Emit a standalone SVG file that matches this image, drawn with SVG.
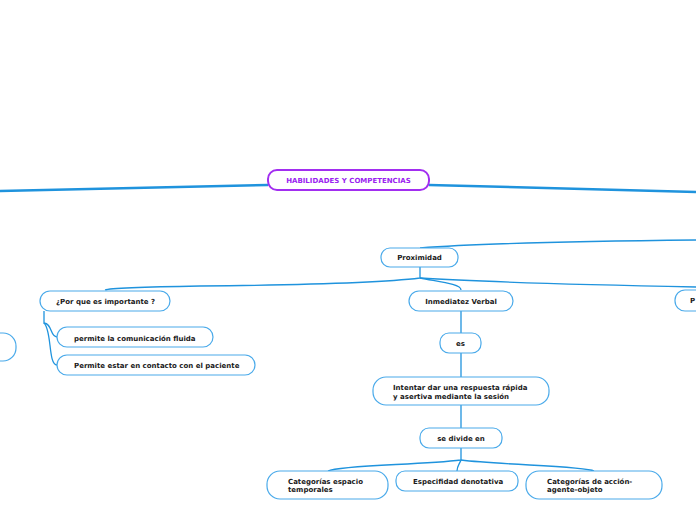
<svg xmlns="http://www.w3.org/2000/svg" width="696" height="520" viewBox="0 0 696 520">
<style>
.n{fill:#fff;stroke:#4aaaea;stroke-width:1.2}
.r{fill:#fff;stroke:#a22ef0;stroke-width:2}
.t{font-family:"DejaVu Sans",Verdana,sans-serif;font-weight:bold;font-size:7px;fill:#1a1a1a}
.rt{font-family:"DejaVu Sans",Verdana,sans-serif;font-weight:bold;font-size:7px;fill:#9a22f0}
.c{fill:none;stroke:#1f93dd;stroke-width:1.3}
.c2{fill:none;stroke:#1f93dd;stroke-width:2.5}
</style>
<rect width="696" height="520" fill="#fff"/>
<g id="connectors">
<path class="c2" d="M268,185 C150,188 60,190 0,191"/>
<path class="c2" d="M429,185 C550,188 640,191 696,192"/>
<path class="c" d="M420,248 C480,243 600,241 696,240"/>
<path class="c" d="M420,267 L420,278 C380,283 300,285 200,286 C140,287 110,288 105,290"/>
<path class="c" d="M420,278 C440,282 461,284 461,290"/>
<path class="c" d="M420,278 C480,282 600,285 696,287"/>
<path class="c" d="M44,311 L44,323 C52,323 50,337 57,337"/>
<path class="c" d="M44,323 C52,330 48,365 57,365"/>
<path class="c" d="M461,311 L461,333"/>
<path class="c" d="M461,353 L461,377"/>
<path class="c" d="M461,405 L461,428"/>
<path class="c" d="M461,448 L461,460 C420,465 340,465 328,471"/>
<path class="c" d="M461,460 C459,465 457,466 457,471"/>
<path class="c" d="M461,460 C500,465 585,466 594,471"/>
</g>
<g id="root">
<rect class="r" x="268" y="170" width="161" height="20" rx="9"/>
<text class="rt" x="348.5" y="182.5" text-anchor="middle">HABILIDADES Y COMPETENCIAS</text>
</g>
<g id="proximidad">
<rect class="n" x="381" y="248" width="77" height="19" rx="9"/>
<text class="t" x="419.5" y="260" text-anchor="middle">Proximidad</text>
</g>
<g id="por-que">
<rect class="n" x="40" y="291" width="130" height="20" rx="10"/>
<text class="t" x="56" y="303.5">¿Por que es importante ?</text>
</g>
<g id="permite-comunicacion">
<rect class="n" x="57" y="327" width="156" height="20" rx="10"/>
<text class="t" x="74" y="340.5">permite la comunicación fluida</text>
</g>
<g id="permite-contacto">
<rect class="n" x="57" y="355" width="198" height="20" rx="10"/>
<text class="t" x="74" y="368">Permite estar en contacto con el paciente</text>
</g>
<g id="left-partial">
<rect class="n" x="-40" y="333" width="56" height="28" rx="13"/>
</g>
<g id="inmediatez">
<rect class="n" x="409" y="291" width="104" height="20" rx="10"/>
<text class="t" x="461" y="303.5" text-anchor="middle">Inmediatez Verbal</text>
</g>
<g id="right-partial">
<rect class="n" x="675" y="290" width="60" height="21" rx="10"/>
<text class="t" x="690" y="303">P</text>
</g>
<g id="es">
<rect class="n" x="440" y="333" width="41" height="20" rx="9"/>
<text class="t" x="460.5" y="345.5" text-anchor="middle">es</text>
</g>
<g id="intentar">
<rect class="n" x="373" y="377" width="176" height="28" rx="13"/>
<text class="t" x="393" y="389.5">Intentar dar una respuesta rápida</text>
<text class="t" x="393" y="398.5">y asertiva mediante la sesión</text>
</g>
<g id="se-divide">
<rect class="n" x="420" y="428" width="82" height="20" rx="9"/>
<text class="t" x="461" y="441" text-anchor="middle">se divide en</text>
</g>
<g id="cat-espacio">
<rect class="n" x="267" y="471" width="121" height="28" rx="13"/>
<text class="t" x="288" y="483.5">Categorías espacio</text>
<text class="t" x="288" y="492">temporales</text>
</g>
<g id="especifidad">
<rect class="n" x="396" y="471" width="122" height="20" rx="9"/>
<text class="t" x="413" y="483.5">Especifidad denotativa</text>
</g>
<g id="cat-accion">
<rect class="n" x="526" y="471" width="136" height="28" rx="13"/>
<text class="t" x="547" y="483.5">Categorías de acción-</text>
<text class="t" x="547" y="492">agente-objeto</text>
</g>
</svg>
